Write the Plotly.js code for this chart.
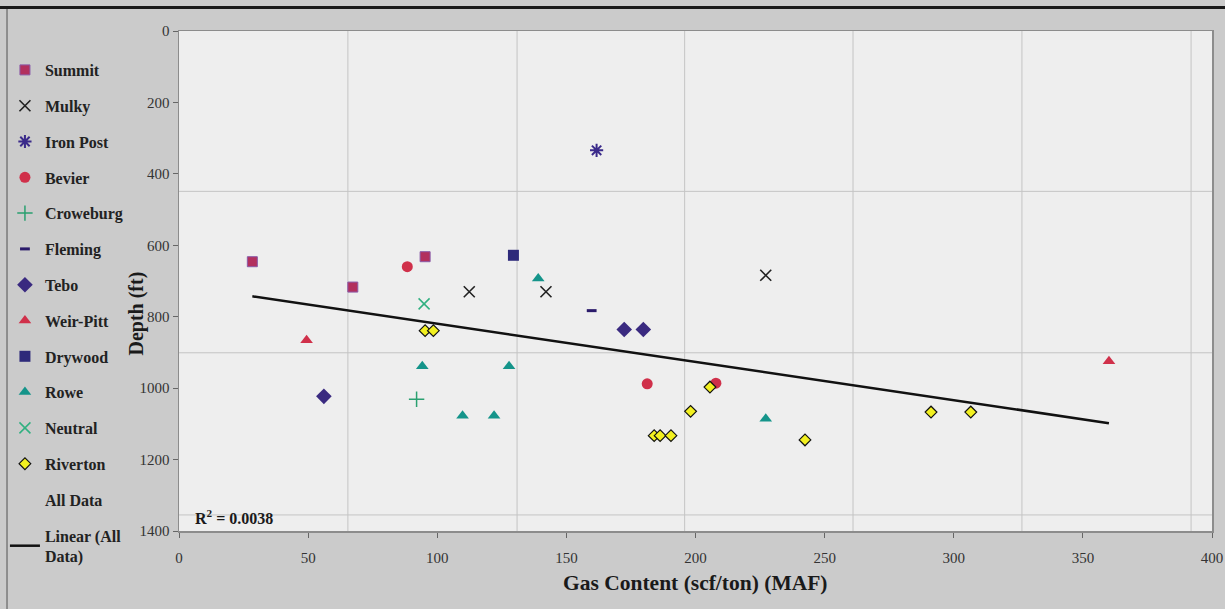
<!DOCTYPE html>
<html>
<head>
<meta charset="utf-8">
<script src="https://cdn.plot.ly/plotly-3.0.1.min.js"></script>
<style>
html,body{margin:0;padding:0;background:#cbcbcb;}
#chart{width:1225px;height:609px;}
</style>
</head>
<body>
<div id="chart"></div>
<script>
// ---- data (gas content scf/ton MAF, depth ft) ----
const summitX = [28.4, 67.3, 95.3];
const summitY = [646, 717, 632];
const mulkyX = [112.4, 142.1, 227.2];
const mulkyY = [730, 730, 684];
const ironPostX = [161.7];
const ironPostY = [334];
const bevierX = [88.4, 181.3, 207.9];
const bevierY = [660, 988, 986];
const croweburgX = [92.0];
const croweburgY = [1031];
const flemingX = [159.8];
const flemingY = [783];
const teboX = [56.1, 172.4, 179.8];
const teboY = [1023, 836, 836];
const weirPittX = [49.4, 360.1];
const weirPittY = [866, 925];
const drywoodX = [129.5];
const drywoodY = [628];
const roweX = [139.1, 94.2, 127.8, 109.8, 122.0, 227.2];
const roweY = [693, 939, 939, 1077, 1077, 1086];
const neutralX = [94.9];
const neutralY = [764];
const rivertonX = [95.3, 98.5, 205.6, 198.1, 184.0, 186.3, 190.5, 242.4, 291.2, 306.6];
const rivertonY = [839, 839, 997, 1065, 1133, 1133, 1133, 1145, 1067, 1067];
const trendX = [28.4, 360.1];
const trendY = [743, 1098];
const xTicks = [0, 50, 100, 150, 200, 250, 300, 350, 400];
const yTicks = [0, 200, 400, 600, 800, 1000, 1200, 1400];
const r2Text = 'R<sup>2</sup> = 0.0038';
const xTitle = 'Gas Content (scf/ton) (MAF)';
const yTitle = 'Depth (ft)';

const serif = 'Liberation Serif, Times New Roman, serif';

function pts(name, xs, ys, symbol, color, size, line) {
  return {
    type: 'scatter', mode: 'markers', name: name, x: xs, y: ys,
    legendgroup: name,
    marker: {symbol: symbol, color: color, size: size, line: line || {width: 0}},
    hoverinfo: 'x+y+name'
  };
}

const traces = [
  pts('Summit', summitX, summitY, 'square', '#b2305e', 10, {color: '#8a5aa8', width: 1}),
  pts('Mulky', mulkyX, mulkyY, 'x-thin-open', '#222222', 11, {color: '#222222', width: 1.6}),
  pts('Iron Post', ironPostX, ironPostY, 'asterisk-open', '#3a2a8a', 11, {color: '#3a2a8a', width: 2}),
  pts('Bevier', bevierX, bevierY, 'circle', '#d0304a', 11),
  pts('Croweburg', croweburgX, croweburgY, 'cross-thin-open', '#2aa070', 11, {color: '#2aa070', width: 1.5}),
  pts('Fleming', flemingX, flemingY, 'line-ew-open', '#2a1a6a', 7, {color: '#2a1a6a', width: 3}),
  pts('Tebo', teboX, teboY, 'diamond', '#3a2a80', 12),
  pts('Weir-Pitt', weirPittX, weirPittY, 'triangle-up', '#d0304a', 11),
  pts('Drywood', drywoodX, drywoodY, 'square', '#2e2a7a', 11),
  pts('Rowe', roweX, roweY, 'triangle-up', '#14948a', 11),
  pts('Neutral', neutralX, neutralY, 'x-thin-open', '#30b080', 11, {color: '#30b080', width: 1.5}),
  pts('Riverton', rivertonX, rivertonY, 'diamond', '#f2f020', 9, {color: '#111111', width: 1.2}),
  {type: 'scatter', mode: 'markers', name: 'All Data', legendgroup: 'All Data',
   x: [null], y: [null], marker: {color: 'rgba(0,0,0,0)', size: 1}},
  {type: 'scatter', mode: 'lines', name: 'Linear (All<br>Data)', legendgroup: 'Linear',
   x: trendX, y: trendY, line: {color: '#111111', width: 2.5}}
];

// grid lines as drawn in the original (offset from the ticks)
const vGrid = [65.4, 130.9, 195.8, 261.0, 326.4, 391.9];
const hGrid = [449, 901, 1355];
const shapes = [];
vGrid.forEach(v => shapes.push({type: 'line', layer: 'below', xref: 'x', yref: 'paper',
  x0: v, x1: v, y0: 0, y1: 1, line: {color: '#c4c4c4', width: 1}}));
hGrid.forEach(v => shapes.push({type: 'line', layer: 'below', xref: 'paper', yref: 'y',
  x0: 0, x1: 1, y0: v, y1: v, line: {color: '#c4c4c4', width: 1}}));
// frame decorations
shapes.push({type: 'line', xref: 'paper', yref: 'paper', x0: -0.1733, x1: 1.0126,
  y0: 1.047, y1: 1.047, line: {color: '#1a1a1a', width: 3}});
shapes.push({type: 'line', xref: 'paper', yref: 'paper', x0: -0.1665, x1: -0.1665,
  y0: -0.157, y1: 1.044, line: {color: '#7a7a7a', width: 1.5}});

const layout = {
  width: 1225, height: 609,
  margin: {l: 179, r: 13, t: 31, b: 78, autoexpand: false},
  paper_bgcolor: '#cbcbcb',
  plot_bgcolor: '#eeeeee',
  font: {family: serif, color: '#222'},
  showlegend: true,
  legend: {
    x: -0.1685, xanchor: 'left', y: 0.956, yanchor: 'top',
    bgcolor: 'rgba(0,0,0,0)',
    font: {family: serif, size: 16, weight: 'bold', color: '#222'},
    itemwidth: 30, tracegroupgap: 12, traceorder: 'grouped',
    maxheight: 600
  },
  xaxis: {
    range: [0, 400], tickvals: xTicks, ticktext: xTicks.map(String),
    showgrid: false, zeroline: false, automargin: false,
    showline: true, linecolor: '#8c8c8c', linewidth: 1.5, mirror: true,
    ticks: 'outside', ticklen: 5, tickcolor: '#666',
    ticklabelstandoff: 7,
    tickfont: {family: serif, size: 15, color: '#333'}
  },
  yaxis: {
    range: [1400, 0], tickvals: yTicks, ticktext: yTicks.map(String),
    showgrid: false, zeroline: false, automargin: false,
    showline: true, linecolor: '#8c8c8c', linewidth: 1.5, mirror: true,
    ticks: 'outside', ticklen: 5, tickcolor: '#666',
    tickfont: {family: serif, size: 15, color: '#333'}
  },
  shapes: shapes,
  annotations: [
    {x: 5.4, y: 1362, xref: 'x', yref: 'y', xanchor: 'left', yanchor: 'middle',
     text: r2Text, showarrow: false,
     font: {family: serif, size: 16, weight: 'bold', color: '#1a1a1a'}},
    {x: 0.5, y: -0.104, xref: 'paper', yref: 'paper', xanchor: 'center', yanchor: 'middle',
     text: xTitle, showarrow: false,
     font: {family: serif, size: 21.5, weight: 'bold', color: '#1a1a1a'}},
    {x: -0.0416, y: 0.435, xref: 'paper', yref: 'paper', xanchor: 'center', yanchor: 'middle',
     text: yTitle, showarrow: false, textangle: -90,
     font: {family: serif, size: 20, weight: 'bold', color: '#1a1a1a'}}
  ]
};

Plotly.newPlot('chart', traces, layout, {displayModeBar: false, staticPlot: true});
</script>
</body>
</html>
